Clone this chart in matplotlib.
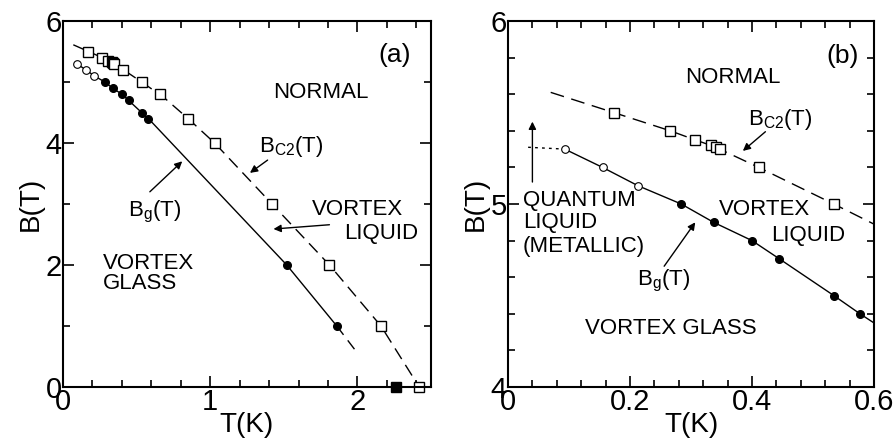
import matplotlib
matplotlib.use("Agg")
import matplotlib.pyplot as plt
from matplotlib.ticker import MultipleLocator

plt.rcParams['font.family'] = ['Liberation Sans', 'DejaVu Sans']
plt.rcParams['lines.scale_dashes'] = False
plt.rcParams['mathtext.fontset'] = 'custom'
plt.rcParams['mathtext.rm'] = 'Liberation Sans'

# ---- data ----
bc2_T = [0.173, 0.266, 0.307, 0.333, 0.341, 0.347, 0.411, 0.534, 0.66, 0.85, 1.03, 1.42, 1.81, 2.16, 2.42]
bc2_B = [5.50, 5.40, 5.35, 5.32, 5.31, 5.30, 5.20, 5.00, 4.80, 4.40, 4.00, 3.00, 2.00, 1.00, 0.00]
bg_open_T = [0.093, 0.155, 0.213]
bg_open_B = [5.30, 5.20, 5.10]
bg_fill_T = [0.284, 0.337, 0.400, 0.445, 0.534, 0.577, 1.52, 1.86]
bg_fill_B = [5.00, 4.90, 4.80, 4.70, 4.50, 4.40, 2.00, 1.00]
tc_T = [2.26]
tc_B = [0.0]

# guide lines
bc2_line_T = [0.07] + bc2_T[:8] + [0.60] + bc2_T[8:]
bc2_line_B = [5.61] + bc2_B[:8] + [4.89] + bc2_B[8:]
bg_line_T = bg_open_T + bg_fill_T[:6] + [0.60] + bg_fill_T[6:]
bg_line_B = bg_open_B + bg_fill_B[:6] + [4.35] + bg_fill_B[6:]
bg_ext_T = [1.86, 1.98]
bg_ext_B = [1.00, 0.62]
bg_dot_T = [0.033, 0.093]
bg_dot_B = [5.31, 5.30]

W, H = 893, 442
fig = plt.figure(figsize=(W / 100, H / 100), dpi=100)
axA = fig.add_axes([63 / W, (H - 387) / H, 368 / W, 366 / H])
axB = fig.add_axes([508 / W, (H - 387) / H, 366 / W, 366 / H])

FS_TICK = 21
FS_LAB = 20
FS_TXT = 16
FS_PANEL = 19
lw = 1.0
ms_sq = 6.5
ms_c = 5.5

def style(ax):
    for s in ax.spines.values():
        s.set_linewidth(1.5)
    ax.tick_params(which='both', direction='in', top=True, right=True,
                   labelsize=FS_TICK, pad=1, width=1.2)
    ax.tick_params(which='major', length=8)
    ax.tick_params(which='minor', length=5)

arrow = dict(arrowstyle='-|>', lw=1.0, color='k', mutation_scale=11, shrinkA=0, shrinkB=0)

# ---- panel (a) ----
ax = axA
ax.plot(bc2_line_T, bc2_line_B, color='k', lw=lw, dashes=(9, 5))
ax.plot(bg_line_T, bg_line_B, color='k', lw=lw)
ax.plot(bg_ext_T, bg_ext_B, color='k', lw=lw, dashes=(8, 5))
ax.plot(bc2_T, bc2_B, 's', ms=ms_sq, mfc='white', mec='k', mew=1.0, ls='none', clip_on=False)
ax.plot(bg_open_T, bg_open_B, 'o', ms=ms_c, mfc='white', mec='k', mew=0.8, ls='none')
ax.plot(bg_fill_T, bg_fill_B, 'o', ms=ms_c, mfc='k', mec='k', ls='none')
ax.plot(tc_T, tc_B, 's', ms=ms_sq, mfc='k', mec='k', ls='none', clip_on=False)
ax.set_xlim(0, 2.5)
ax.set_ylim(0, 6)
ax.xaxis.set_major_locator(MultipleLocator(1))
ax.xaxis.set_minor_locator(MultipleLocator(0.2))
ax.yaxis.set_major_locator(MultipleLocator(2))
ax.yaxis.set_minor_locator(MultipleLocator(1))
style(ax)
ax.set_xlabel('T(K)', fontsize=FS_LAB, labelpad=-3)
ax.set_ylabel('B(T)', fontsize=FS_LAB, labelpad=1)
ax.text(2.25, 5.44, '(a)', fontsize=FS_PANEL, ha='center', va='center')
ax.text(1.75, 4.82, 'NORMAL', fontsize=FS_TXT, ha='center', va='center')
ax.text(1.55, 3.94, r'B$_{\mathrm{C2}}$(T)', fontsize=FS_TXT, ha='center', va='center')
ax.annotate('', xy=(1.27, 3.51), xytext=(1.39, 3.72), arrowprops=arrow)
ax.text(0.625, 2.87, r'B$_{\mathrm{g}}$(T)', fontsize=FS_TXT, ha='center', va='center')
ax.annotate('', xy=(0.81, 3.70), xytext=(0.59, 3.20), arrowprops=arrow)
ax.text(2.0, 2.91, 'VORTEX', fontsize=FS_TXT, ha='center', va='center')
ax.text(2.16, 2.52, 'LIQUID', fontsize=FS_TXT, ha='center', va='center')
ax.annotate('', xy=(1.43, 2.59), xytext=(1.81, 2.66), arrowprops=arrow)
ax.text(0.27, 2.03, 'VORTEX', fontsize=FS_TXT, ha='left', va='center')
ax.text(0.27, 1.70, 'GLASS', fontsize=FS_TXT, ha='left', va='center')

# ---- panel (b) ----
ax = axB
ax.plot(bc2_line_T, bc2_line_B, color='k', lw=lw, dashes=(10, 5.5))
ax.plot(bg_line_T, bg_line_B, color='k', lw=lw)
ax.plot(bg_dot_T, bg_dot_B, color='k', lw=lw, dashes=(2, 3))
ax.plot(bc2_T, bc2_B, 's', ms=ms_sq, mfc='white', mec='k', mew=1.0, ls='none')
ax.plot(bg_open_T, bg_open_B, 'o', ms=ms_c, mfc='white', mec='k', mew=0.8, ls='none')
ax.plot(bg_fill_T, bg_fill_B, 'o', ms=ms_c, mfc='k', mec='k', ls='none')
ax.set_xlim(0, 0.6)
ax.set_ylim(4, 6)
ax.xaxis.set_major_locator(MultipleLocator(0.2))
ax.xaxis.set_minor_locator(MultipleLocator(0.04))
ax.yaxis.set_major_locator(MultipleLocator(1))
ax.yaxis.set_minor_locator(MultipleLocator(0.2))
ax.xaxis.set_major_formatter(plt.FuncFormatter(lambda v, p: '0' if abs(v) < 1e-9 else f'{v:.1f}'))
style(ax)
ax.set_xlabel('T(K)', fontsize=FS_LAB, labelpad=-3)
ax.set_ylabel('B(T)', fontsize=FS_LAB, labelpad=1)
ax.text(0.548, 5.81, '(b)', fontsize=FS_PANEL, ha='center', va='center')
ax.text(0.369, 5.69, 'NORMAL', fontsize=FS_TXT, ha='center', va='center')
ax.text(0.447, 5.46, r'B$_{\mathrm{C2}}$(T)', fontsize=FS_TXT, ha='center', va='center')
ax.annotate('', xy=(0.385, 5.29), xytext=(0.422, 5.395), arrowprops=arrow)
ax.annotate('', xy=(0.040, 5.45), xytext=(0.040, 5.12), arrowprops=arrow)
ax.text(0.024, 5.02, 'QUANTUM', fontsize=FS_TXT, ha='left', va='center')
ax.text(0.024, 4.90, 'LIQUID', fontsize=FS_TXT, ha='left', va='center')
ax.text(0.024, 4.77, '(METALLIC)', fontsize=FS_TXT, ha='left', va='center')
ax.text(0.345, 4.97, 'VORTEX', fontsize=FS_TXT, ha='left', va='center')
ax.text(0.431, 4.83, 'LIQUID', fontsize=FS_TXT, ha='left', va='center')
ax.text(0.255, 4.58, r'B$_{\mathrm{g}}$(T)', fontsize=FS_TXT, ha='center', va='center')
ax.annotate('', xy=(0.307, 4.90), xytext=(0.256, 4.66), arrowprops=arrow)
ax.text(0.267, 4.32, 'VORTEX GLASS', fontsize=FS_TXT, ha='center', va='center')

fig.savefig('out.png', dpi=100)
